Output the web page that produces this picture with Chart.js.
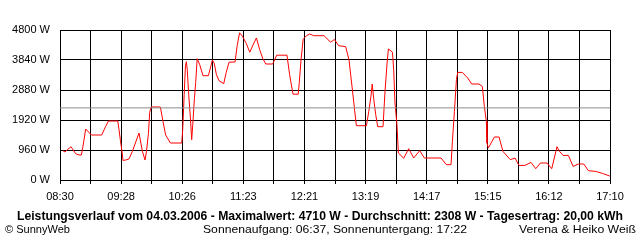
<!DOCTYPE html>
<html>
<head>
<meta charset="utf-8">
<script src="https://cdn.jsdelivr.net/npm/chart.js@4"></script>
<style>
  html, body { margin: 0; padding: 0; background: #fff; }
  #wrap { position: relative; width: 640px; height: 240px; overflow: hidden; }
  canvas { position: absolute; left: 0; top: 0; }
  .t { position: absolute; white-space: nowrap; color: #000; font-family: "Liberation Sans", Arial, sans-serif; transform-origin: 0 0; line-height: 1; }
  #title { font-weight: bold; font-size: 12px; left: 17px; top: 210px; }
  .s { font-size: 11px; top: 224px; }
</style>
</head>
<body>
<div id="wrap">
  <canvas id="c" width="640" height="240"></canvas>
  <div class="t" id="title" data-w="606">Leistungsverlauf vom 04.03.2006 - Maximalwert: 4710 W - Durchschnitt: 2308 W - Tagesertrag: 20,00 kWh</div>
  <div class="t s" id="f1" style="left:5px" data-w="65">© SunnyWeb</div>
  <div class="t s" id="f2" style="left:203px" data-w="264">Sonnenaufgang: 06:37, Sonnenuntergang: 17:22</div>
  <div class="t s" id="f3" style="left:519px" data-w="117">Verena &amp; Heiko Weiß</div>
</div>
<script>
// minutes after 08:30
const minutes = [2.8,4.7,7.3,10.4,11.7,14.8,18.0,20.2,21.7,24.3,
27.4,29.7,39.4,43.2,45.8,54.6,55.8,57.1,58.3,59.6,
62.1,65.2,68.4,74.7,77.9,80.4,81.7,83.6,84.8,86.0,
94.9,97.4,99.9,104.4,115.1,116.0,117.4,118.6,119.5,120.3,
121.7,123.3,124.5,125.5,127.1,128.3,129.7,132.1,135.2,140.3,
144.1,145.8,147.9,150.3,154.8,157.1,159.8,165.5,167.5,169.8,
172.5,176.2,179.4,182.5,185.7,188.8,191.6,194.5,201.1,204.9,
214.6,217.1,220.3,225.2,226.2,227.9,229.9,233.0,236.1,239.9,
249.6,255.9,259.4,263.5,270.1,273.2,276.5,278.6,280.2,289.7,
291.9,294.0,295.2,296.6,298.5,300.4,305.4,307.3,309.2,310.5,
314.3,315.5,316.7,318.6,319.9,325.0,329.7,334.4,340.1,344.5,
360.2,365.3,369.7,371.0,372.9,374.8,376.0,380.4,385.5,389.2,
396.1,399.3,401.2,403.1,403.7,405.0,410.7,415.1,418.8,425.8,
430.2,433.9,439.6,445.3,449.8,454.2,460.4,464.9,469.9,471.8,
475.6,480.7,485.1,490.1,495.2,499.6,506.5,512.9,519.7];
const watts = [938,896,979,1066,1002,842,800,800,1075,1632,
1523,1440,1440,1715,1888,1888,1610,1267,992,627,
640,672,915,1504,915,640,906,1482,2163,2336,
2336,1866,1440,1184,1184,1610,2730,3658,3786,3530,
2730,1994,1290,1770,2611,3123,3882,3690,3338,3338,
3840,3738,3370,3178,3082,3434,3770,3776,4298,4710,
4602,4362,4090,4320,4547,4170,3898,3712,3712,3994,
3994,3370,2746,2746,3114,3850,4506,4618,4672,4618,
4618,4410,4496,4298,4266,3850,2874,2218,1738,1738,
2186,2675,3072,2602,2090,1706,1706,2842,3722,4195,
4090,3530,2464,1770,864,698,1002,704,938,704,
704,490,490,1235,2195,3210,3443,3443,3264,3072,
3072,2995,2355,1875,1184,1024,1376,1376,915,650,
704,467,467,563,362,544,544,362,1066,938,
787,787,435,512,512,298,275,211,128];
const average = 2308;
const xLabels = ["08:30","09:28","10:26","11:23","12:21","13:19","14:17","15:15","16:12","17:10"];
const xSpan = 520;      // 08:30 .. 17:10 in minutes
const xDivisions = 18;  // grid divisions
const yMax = 4800;
const yStep = 960;

const powerData = minutes.map((m, i) => ({x: m, y: watts[i]}));
const avgData = [{x: 0, y: average}, {x: xSpan, y: average}];

new Chart(document.getElementById('c'), {
  type: 'line',
  data: {
    datasets: [
      { data: avgData, borderColor: '#8c8c8c', borderWidth: 1, pointRadius: 0, tension: 0 },
      { data: powerData, borderColor: '#ff0000', borderWidth: 1, pointRadius: 0, tension: 0 }
    ]
  },
  options: {
    responsive: false,
    animation: false,
    events: [],
    layout: { padding: { top: 30, right: 30, left: 0, bottom: 0 } },
    plugins: { legend: { display: false }, tooltip: { enabled: false } },
    scales: {
      x: {
        type: 'linear', min: 0, max: xSpan,
        afterBuildTicks: (s) => { s.ticks = Array.from({length: xDivisions + 1}, (_, i) => ({value: i * xSpan / xDivisions})); },
        afterFit: (s) => { s.height = 60; },
        grid: { color: '#000', lineWidth: 1, tickLength: 4, drawTicks: true },
        border: { color: '#000', width: 1 },
        ticks: {
          autoSkip: false, maxRotation: 0, padding: 6, color: '#000',
          font: { family: '"Liberation Sans", Arial, sans-serif', size: 11 },
          callback: (v, i) => (i % 2 === 0 ? xLabels[i / 2] : '')
        }
      },
      y: {
        min: 0, max: yMax,
        afterFit: (s) => { s.width = 60; },
        grid: { color: '#000', lineWidth: 1, drawTicks: false },
        border: { color: '#000', width: 1 },
        ticks: {
          stepSize: yStep, padding: 10, color: '#000',
          font: { family: '"Liberation Sans", Arial, sans-serif', size: 11 },
          callback: (v) => v + ' W'
        }
      }
    }
  }
});

document.querySelectorAll('.t').forEach(el => {
  const target = parseFloat(el.dataset.w);
  const w = el.getBoundingClientRect().width;
  if (w > 0) el.style.transform = 'scaleX(' + (target / w) + ')';
});
</script>
</body>
</html>
